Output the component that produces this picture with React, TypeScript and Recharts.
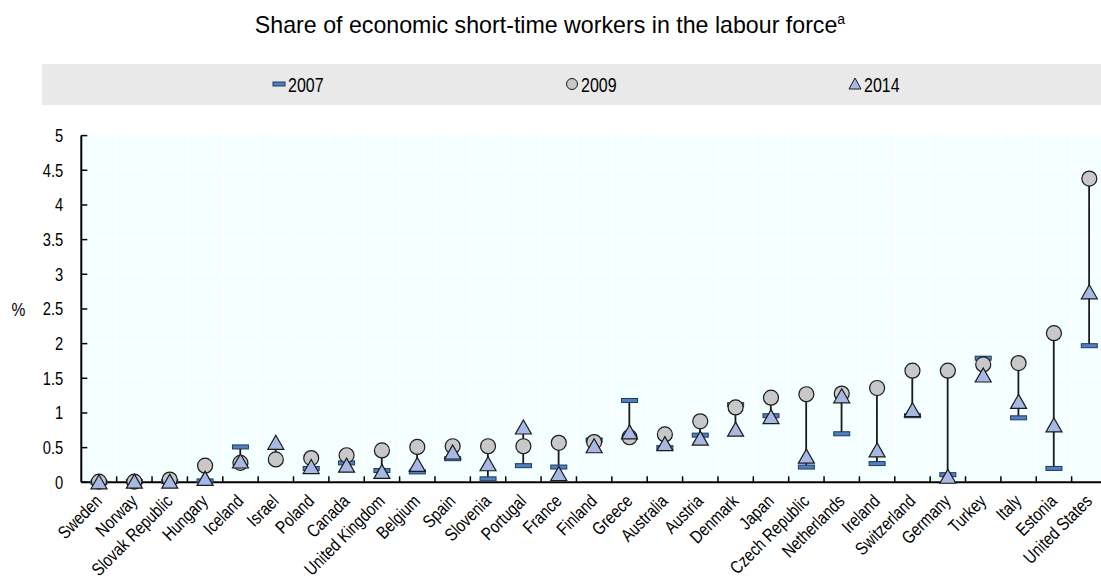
import React from "react";
import { ComposedChart, Bar, Line, XAxis, YAxis, CartesianGrid } from "recharts";

const categories = [
  "Sweden", "Norway", "Slovak Republic", "Hungary", "Iceland", "Israel", "Poland", "Canada",
  "United Kingdom", "Belgium", "Spain", "Slovenia", "Portugal", "France", "Finland", "Greece",
  "Australia", "Austria", "Denmark", "Japan", "Czech Republic", "Netherlands", "Ireland",
  "Switzerland", "Germany", "Turkey", "Italy", "Estonia", "United States",
];
const values2007: (number | null)[] = [
  0, 0.01, 0.01, 0.02, 0.51, null, 0.2, 0.28, 0.17, 0.15, 0.34, 0.05, 0.24, 0.22, 0.61, 1.18,
  0.5, 0.68, 1.12, 0.96, 0.22, 0.7, 0.27, 0.96, 0.11, 1.79, 0.93, 0.2, 1.97,
];
const values2009: (number | null)[] = [
  0.01, 0.01, 0.04, 0.24, 0.28, 0.33, 0.35, 0.39, 0.46, 0.51, 0.52, 0.52, 0.52, 0.57, 0.58, 0.65,
  0.69, 0.88, 1.08, 1.22, 1.27, 1.28, 1.36, 1.61, 1.61, 1.7, 1.72, 2.15, 4.38,
];
const values2014: (number | null)[] = [
  0, 0.01, 0.01, 0.05, 0.3, 0.57, 0.22, 0.24, 0.15, 0.25, 0.43, 0.26, 0.79, 0.12, 0.52, 0.72,
  0.55, 0.63, 0.76, 0.94, 0.37, 1.24, 0.46, 1.04, 0.08, 1.54, 1.16, 0.82, 2.74,
];
const yTicks = [0, 0.5, 1, 1.5, 2, 2.5, 3, 3.5, 4, 4.5, 5];
const seriesNames = ["2007", "2009", "2014"];
const titleText = "Share of economic short-time workers in the labour force";
const titleNote = "a";
const yUnit = "%";

const data = categories.map((name, i) => {
  const vals = [values2007[i], values2009[i], values2014[i]].filter((v) => v != null) as number[];
  return {
    name,
    y2007: values2007[i],
    y2009: values2009[i],
    y2014: values2014[i],
    range: [Math.min(...vals), Math.max(...vals)],
  };
});

const SANS = "'Liberation Sans', Arial, sans-serif";
const NARROW_SCALE = 0.82;

const DASH_FILL = "#4F81BD";
const DASH_STROKE = "#1F3864";
const CIRCLE_FILL = "#C8C8C8";
const TRI_FILL = "#A6B8E3";
const MARK_STROKE = "#1A1A1A";

// condensed text: draws text anchored at (x, y), optionally rotated, horizontally squeezed
const NarrowText = ({
  x,
  y,
  rotate = 0,
  anchor = "start",
  size = 18,
  children,
}: {
  x: number;
  y: number;
  rotate?: number;
  anchor?: string;
  size?: number;
  children: any;
}) => (
  <text
    x={0}
    y={0}
    textAnchor={anchor as any}
    transform={`translate(${x} ${y}) rotate(${rotate}) scale(${NARROW_SCALE} 1)`}
    fontFamily={SANS}
    fontSize={size}
    fill="#000"
  >
    {children}
  </text>
);

const DashMark = ({ cx, cy }: { cx: number; cy: number }) => (
  <rect x={cx - 8} y={cy - 2} width={16} height={4} fill={DASH_FILL} stroke={DASH_STROKE} strokeWidth={1} />
);
const CircleMark = ({ cx, cy }: { cx: number; cy: number }) => (
  <circle cx={cx} cy={cy} r={7.5} fill={CIRCLE_FILL} stroke={MARK_STROKE} strokeWidth={1.2} />
);
const TriMark = ({ cx, cy }: { cx: number; cy: number }) => (
  <polygon
    points={`${cx},${cy - 7.5} ${cx + 8},${cy + 6.5} ${cx - 8},${cy + 6.5}`}
    fill={TRI_FILL}
    stroke={MARK_STROKE}
    strokeWidth={1.2}
  />
);

const makeDot = (Comp: any) => (props: any) => {
  const { cx, cy, value, index } = props;
  if (value == null || cy == null || isNaN(cy)) return <g key={`e-${index}`} />;
  return (
    <g key={`d-${index}`}>
      <Comp cx={cx} cy={cy} />
    </g>
  );
};

const RangeLine = (props: any) => {
  const { x, y, width, height } = props;
  if (x == null || y == null) return <g />;
  const cx = x + width / 2;
  const y1 = Math.min(y, y + height);
  const y2 = Math.max(y, y + height);
  return <line x1={cx} x2={cx} y1={y1} y2={y2} stroke="#1A1A1A" strokeWidth={1.8} />;
};

const XTick = (props: any) => {
  const { x, y, payload } = props;
  const half = payload && payload.offset ? payload.offset : 17.7;
  return (
    <g>
      {payload.index > 0 && (
        <line x1={x - half} x2={x - half} y1={y} y2={y - 6} stroke="#000" strokeWidth={1.5} />
      )}
      <NarrowText x={x + 4} y={y + 20} rotate={-45} anchor="end" size={18}>
        {payload.value}
      </NarrowText>
    </g>
  );
};

const YTick = (props: any) => {
  const { x, y, payload } = props;
  return (
    <g>
      <line x1={x} x2={x + 6} y1={y} y2={y} stroke="#000" strokeWidth={1.5} />
      <NarrowText x={x - 18} y={y + 6.5} anchor="end" size={18}>
        {String(payload.value)}
      </NarrowText>
    </g>
  );
};

const verticalGen = (args: any) => {
  const xAxis = args && args.xAxis;
  if (xAxis && xAxis.scale && typeof xAxis.scale === "function") {
    const out: number[] = [];
    for (let i = 1; i < categories.length; i++) {
      const v = xAxis.scale(categories[i]);
      if (typeof v === "number" && !isNaN(v)) out.push(v);
    }
    if (out.length) return out;
  }
  const off = args.offset;
  const bw = off.width / categories.length;
  return categories.slice(1).map((_, i) => off.left + (i + 1) * bw);
};

const legendItems = [
  { label: seriesNames[0], markX: 279, textX: 288, kind: "dash" },
  { label: seriesNames[1], markX: 572, textX: 581, kind: "circle" },
  { label: seriesNames[2], markX: 855, textX: 864, kind: "tri" },
];

export default function App() {
  return (
    <div
      style={{
        position: "absolute",
        left: 0,
        top: 0,
        width: 1101,
        height: 580,
        overflow: "hidden",
        background: "#fff",
      }}
    >
      <svg width={1101} height={120} style={{ position: "absolute", left: 0, top: 0 }}>
        <text x={550} y={32.7} textAnchor="middle" fontFamily={SANS} fontSize={23.2} fill="#000">
          {titleText}
          <tspan fontSize={14} dy={-9}>
            {titleNote}
          </tspan>
        </text>
        <rect x={42} y={64} width={1101 - 42} height={41} fill="#E9E9E9" />
        {legendItems.map((it) => (
          <g key={it.label}>
            {it.kind === "dash" && (
              <rect x={it.markX - 6} y={82} width={12} height={4} fill={DASH_FILL} stroke={DASH_STROKE} strokeWidth={1} />
            )}
            {it.kind === "circle" && (
              <circle cx={it.markX} cy={84} r={5.5} fill={CIRCLE_FILL} stroke={MARK_STROKE} strokeWidth={1} />
            )}
            {it.kind === "tri" && (
              <polygon
                points={`${it.markX},${78} ${it.markX + 6},${89} ${it.markX - 6},${89}`}
                fill={TRI_FILL}
                stroke={MARK_STROKE}
                strokeWidth={1}
              />
            )}
            <NarrowText x={it.textX} y={91.7} size={19.5}>
              {it.label}
            </NarrowText>
          </g>
        ))}
      </svg>
      <svg width={100} height={580} style={{ position: "absolute", left: 0, top: 0, pointerEvents: "none" }}>
        <NarrowText x={18.5} y={316} anchor="middle" size={19}>
          {yUnit}
        </NarrowText>
      </svg>
      <div style={{ position: "absolute", left: 0, top: 0 }}>
        <ComposedChart
          width={1110}
          height={580}
          data={data}
          margin={{ top: 135.6, right: 3, bottom: 0, left: 0.3 }}
          barCategoryGap={0}
        >
          <CartesianGrid
            fill="#F4FFFF"
            stroke="#FFFFFF"
            strokeWidth={1.5}
            horizontal={true}
            vertical={true}
            verticalCoordinatesGenerator={verticalGen}
          />
          <XAxis
            dataKey="name"
            type="category"
            interval={0}
            height={97.7}
            tickLine={false}
            tickSize={0}
            tickMargin={0}
            axisLine={{ stroke: "#000", strokeWidth: 2 }}
            tick={<XTick />}
          />
          <YAxis
            type="number"
            domain={[0, 5]}
            ticks={yTicks}
            width={81}
            tickLine={false}
            tickSize={0}
            tickMargin={0}
            axisLine={{ stroke: "#000", strokeWidth: 2 }}
            tick={<YTick />}
          />
          <Bar dataKey="range" isAnimationActive={false} shape={<RangeLine />} />
          <Line dataKey="y2007" stroke="none" isAnimationActive={false} dot={makeDot(DashMark)} activeDot={false} />
          <Line dataKey="y2009" stroke="none" isAnimationActive={false} dot={makeDot(CircleMark)} activeDot={false} />
          <Line dataKey="y2014" stroke="none" isAnimationActive={false} dot={makeDot(TriMark)} activeDot={false} />
        </ComposedChart>
      </div>
    </div>
  );
}
